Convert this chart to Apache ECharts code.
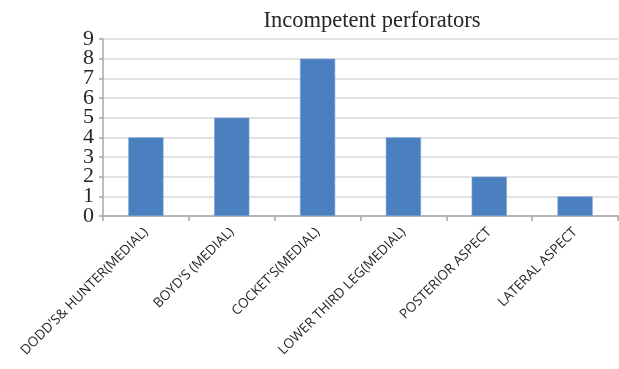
<!DOCTYPE html>
<html>
<head>
<meta charset="utf-8">
<script src="https://cdn.jsdelivr.net/npm/echarts@6/dist/echarts.min.js"></script>
<style>
  html, body { margin: 0; padding: 0; background: #fff; }
  #chart { width: 619px; height: 369px; }
</style>
</head>
<body>
<div id="chart"></div>
<script>
// Perforator groups and the count of incompetent perforators in each
const categories = [
  "DODD'S& HUNTER(MEDIAL)",
  "BOYD'S (MEDIAL)",
  "COCKET'S(MEDIAL)",
  "LOWER THIRD LEG(MEDIAL)",
  "POSTERIOR ASPECT",
  "LATERAL ASPECT"
];
const counts = [4, 5, 8, 4, 2, 1];
const titleText = 'Incompetent perforators';
// Value-axis ticks, split across two overlaid axes so the tall serif digits
// sit tightly stacked without the overlap filter dropping any of them
const evenTicks = [0, 2, 4, 6, 8];
const oddTicks = [1, 3, 5, 7, 9];

const serif = '"Liberation Serif", "Times New Roman", serif';
const axisGrey = '#a6a6a6';

function valueAxis(ticks, primary) {
  return {
    type: 'value',
    min: 0,
    max: 9,
    interval: 1,
    position: 'left',
    axisLine: { show: primary, lineStyle: { color: axisGrey, width: 1.5 } },
    axisTick: { show: primary, length: 4, lineStyle: { color: axisGrey, width: 1.5 } },
    splitLine: { show: primary, lineStyle: { color: '#d9d9d9', width: 1.5 } },
    axisLabel: {
      margin: 9,
      customValues: ticks,
      showMinLabel: true,
      showMaxLabel: true,
      fontFamily: serif,
      fontSize: 22,
      color: '#262626'
    }
  };
}

const chart = echarts.init(document.getElementById('chart'));
chart.setOption({
  animation: false,
  title: {
    text: titleText,
    left: 367,
    top: 5,
    textAlign: 'center',
    textStyle: {
      fontFamily: serif,
      fontSize: 22.5,
      fontWeight: 'normal',
      color: '#262626'
    }
  },
  grid: { left: 103, right: 1, top: 39, bottom: 153, containLabel: false },
  xAxis: {
    type: 'category',
    data: categories,
    axisLine: { lineStyle: { color: axisGrey, width: 1.5 } },
    axisTick: { show: true, length: 5, lineStyle: { color: axisGrey, width: 1.5 } },
    axisLabel: {
      rotate: 45,
      interval: 0,
      margin: 14,
      fontFamily: '"Open Sans", "Liberation Sans", sans-serif',
      fontSize: 13.5,
      color: '#262626'
    }
  },
  yAxis: [valueAxis(evenTicks, true), valueAxis(oddTicks, false)],
  series: [{
    type: 'bar',
    data: counts,
    yAxisIndex: 0,
    barWidth: '41%',
    itemStyle: { color: '#4a7fc0', borderColor: '#7aa3d4', borderWidth: 0.6 }
  }]
});
</script>
</body>
</html>
